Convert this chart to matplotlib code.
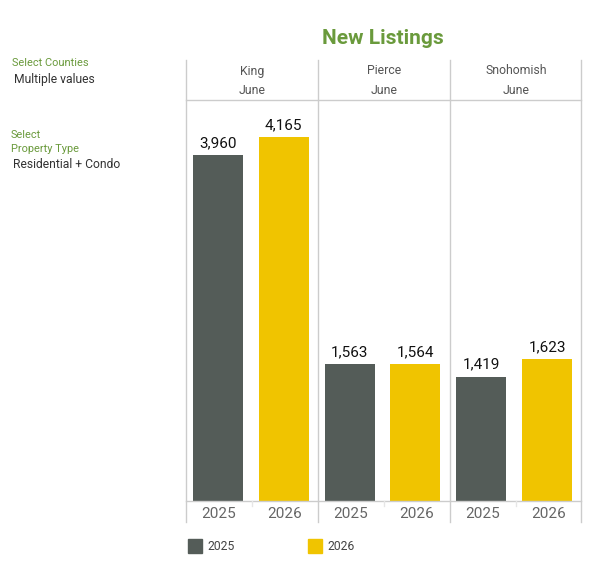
import matplotlib.pyplot as plt
from matplotlib.lines import Line2D
from matplotlib.patches import Rectangle

plt.rcParams['font.family'] = ['Roboto', 'DejaVu Sans']

counties = ["King", "Pierce", "Snohomish"]
month = "June"
years = ["2025", "2026"]
listings_2025 = [3960, 1563, 1419]
listings_2026 = [4165, 1564, 1623]

c25 = "#545c58"
c26 = "#f0c400"
green = "#6a9a3c"
grid = "#cccccc"

W, H = 599, 572
fig = plt.figure(figsize=(W / 100, H / 100), dpi=100)


def fx(px):
    return px / W


def fy(py):
    return 1 - py / H


ax = fig.add_axes([fx(186), fy(501), fx(581) - fx(186), fy(100) - fy(501)])
xs25 = [2 * i + 0.5 for i in range(len(counties))]
xs26 = [2 * i + 1.5 for i in range(len(counties))]
b1 = ax.bar(xs25, listings_2025, width=0.76, color=c25)
b2 = ax.bar(xs26, listings_2026, width=0.76, color=c26)
for bars, vals in ((b1, listings_2025), (b2, listings_2026)):
    for b, v in zip(bars, vals):
        ax.text(b.get_x() + b.get_width() / 2, v + 60, f"{v:,}",
                ha="center", va="bottom", fontsize=11, color="#111111")
ax.set_xlim(0.015, 6.015)
ax.set_ylim(0, 4590)
ax.axis("off")

# frame lines
for px in (186, 318, 450, 581):
    fig.add_artist(Line2D([fx(px), fx(px)], [fy(60), fy(522)], color=grid, lw=1))
fig.add_artist(Line2D([fx(186), fx(581)], [fy(100), fy(100)], color=grid, lw=1))
fig.add_artist(Line2D([fx(186), fx(581)], [fy(501), fy(501)], color=grid, lw=1))
for px in (252, 384, 516):
    fig.add_artist(Line2D([fx(px), fx(px)], [fy(501), fy(506)], color="#e6e6e6", lw=1))

# headers
for i, c in enumerate(counties):
    cx = fx(186 + 132 * i + 66)
    fig.text(cx, fy(71), c, ha="center", va="center", fontsize=8.8, color="#555555")
    fig.text(cx, fy(91), month, ha="center", va="center", fontsize=8.8, color="#555555")
    for j, y in enumerate(years):
        fig.text(fx(186 + 132 * i + 33 + 66 * j), fy(514), y, ha="center", va="center",
                 fontsize=11, color="#666666")

fig.text(fx(383), fy(38), "New Listings", ha="center", va="center",
         fontsize=15, fontweight="bold", color=green)

# filter panel
fig.text(fx(12), fy(63), "Select Counties", ha="left", va="center", fontsize=7.9, color=green)
fig.text(fx(14), fy(79), "Multiple values", ha="left", va="center", fontsize=8.7, color="#333333")
fig.text(fx(11), fy(135), "Select", ha="left", va="center", fontsize=7.9, color=green)
fig.text(fx(11), fy(149), "Property Type", ha="left", va="center", fontsize=7.9, color=green)
fig.text(fx(13), fy(164), "Residential + Condo", ha="left", va="center", fontsize=8.7, color="#333333")

# legend
for px, col, lab in ((188, c25, years[0]), (308, c26, years[1])):
    fig.add_artist(Rectangle((fx(px), fy(553)), fx(14), fy(539) - fy(553),
                             color=col, transform=fig.transFigure))
    fig.text(fx(px + 19), fy(547), lab, ha="left", va="center", fontsize=8.7, color="#444444")

fig.savefig("out.png", dpi=100)
